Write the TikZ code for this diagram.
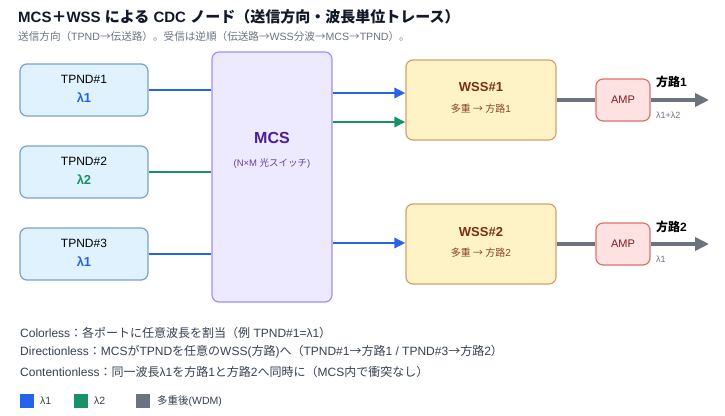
\documentclass[tikz,border=0pt]{standalone}
\usepackage{fontspec}
\setmainfont{Liberation Sans}
\newfontfamily\jp{Noto Sans CJK JP}
\usetikzlibrary{arrows.meta,calc,positioning}

\definecolor{lamone}{RGB}{37,99,235}
\definecolor{lamtwo}{RGB}{22,146,100}
\definecolor{wdmgray}{RGB}{107,114,128}
\definecolor{tpndfill}{RGB}{224,242,254}
\definecolor{tpndline}{RGB}{122,163,198}
\definecolor{mcsfill}{RGB}{237,233,254}
\definecolor{mcsline}{RGB}{167,139,250}
\definecolor{mcstext}{RGB}{76,29,149}
\definecolor{wssfill}{RGB}{254,243,199}
\definecolor{wssline}{RGB}{214,160,110}
\definecolor{wsstext}{RGB}{124,45,18}
\definecolor{ampfill}{RGB}{254,226,226}
\definecolor{ampline}{RGB}{224,112,112}
\definecolor{amptext}{RGB}{127,29,29}
\definecolor{titletext}{RGB}{17,24,39}
\definecolor{bodytext}{RGB}{55,65,81}

\newcommand{\fs}[1]{\fontsize{#1}{#1}\selectfont}

\tikzset{
  box/.style={draw, rounded corners=7pt, line width=1.2pt},
  tpnd/.style={box, draw=tpndline, fill=tpndfill, minimum width=128pt, minimum height=52pt},
  mcsbox/.style={box, draw=mcsline, fill=mcsfill, minimum width=120pt, minimum height=250pt},
  wssbox/.style={box, draw=wssline, fill=wssfill, minimum width=150pt, minimum height=80pt},
  ampbox/.style={box, draw=ampline, fill=ampfill, minimum width=54pt, minimum height=42pt,
    text=amptext, font=\fs{11}},
  txt/.style={inner sep=0pt},
  wire/.style={line width=2.8pt},
  gwire/.style={line width=3.8pt, wdmgray},
  arr/.style={-{Triangle[length=11pt,width=10pt]}},
  garr/.style={-{Triangle[length=14pt,width=13pt]}},
  swatch/.style={inner sep=0pt, minimum size=14pt},
}

\begin{document}
\begin{tikzpicture}[x=1pt,y=-1pt]
  \useasboundingbox[fill=white] (0,0) rectangle (725,415);

  % title
  \node[txt,anchor=west,font=\fs{15}\bfseries,text=titletext] (title) at (18,17)
    {MCS{\jp ＋}WSS {\jp による} CDC {\jp ノード（送信方向・波長単位トレース）}};
  \node[txt,anchor=west,font=\fs{10.6},text=wdmgray] (subtitle) at (18,36)
    {{\jp 送信方向（}TPND{\jp →伝送路）。受信は逆順（伝送路→}WSS{\jp 分波→}MCS{\jp →}TPND{\jp ）。}};

  % transponders
  \node[tpnd] (tp1) at (84,90) {};
  \node[txt,font=\fs{12}] (tp1n) at (84,79) {TPND\#1};
  \node[txt,font=\fs{13}\bfseries,text=lamone] (tp1l) at (84,98) {λ1};
  \node[tpnd] (tp2) at (84,172) {};
  \node[txt,font=\fs{12}] (tp2n) at (84,161) {TPND\#2};
  \node[txt,font=\fs{13}\bfseries,text=lamtwo] (tp2l) at (84,180) {λ2};
  \node[tpnd] (tp3) at (84,254) {};
  \node[txt,font=\fs{12}] (tp3n) at (84,243) {TPND\#3};
  \node[txt,font=\fs{13}\bfseries,text=lamone] (tp3l) at (84,262) {λ1};

  % MCS
  \node[mcsbox] (mcs) at (272,177) {};
  \node[txt,font=\fs{16}\bfseries,text=mcstext] (mcsn) at (272,138) {MCS};
  \node[txt,font=\fs{9.5},text=mcstext!85] (mcss) at (272,163) {(N×M {\jp 光スイッチ})};

  % WSS
  \node[wssbox] (wss1) at (481,100) {};
  \node[txt,font=\fs{13}\bfseries,text=wsstext] (wss1n) at (481,87) {WSS\#1};
  \node[txt,font=\fs{10},text=wsstext!90] (wss1s) at (481,109) {{\jp 多重 → 方路}1};
  \node[wssbox] (wss2) at (481,244) {};
  \node[txt,font=\fs{13}\bfseries,text=wsstext] (wss2n) at (481,232) {WSS\#2};
  \node[txt,font=\fs{10},text=wsstext!90] (wss2s) at (481,253) {{\jp 多重 → 方路}2};

  % amplifiers
  \node[ampbox] (amp1) at (623,100) {AMP};
  \node[ampbox] (amp2) at (623,244) {AMP};
  \coordinate (out1) at (709,100);
  \coordinate (out2) at (709,244);
  \node[txt,anchor=west,font=\fs{12}\bfseries] (dir1) at (656,82) {{\jp 方路}1};
  \node[txt,anchor=west,font=\fs{9},text=wdmgray] (dir1l) at (656,115) {λ1+λ2};
  \node[txt,anchor=west,font=\fs{12}\bfseries] (dir2) at (656,227) {{\jp 方路}2};
  \node[txt,anchor=west,font=\fs{9},text=wdmgray] (dir2l) at (656,259) {λ1};

  % TPND -> MCS
  \draw[wire,lamone] (tp1.east) -- (tp1.east -| mcs.west);
  \draw[wire,lamtwo] (tp2.east) -- (tp2.east -| mcs.west);
  \draw[wire,lamone] (tp3.east) -- (tp3.east -| mcs.west);

  % MCS -> WSS
  \coordinate (w1a) at ($(wss1.west)+(0,-7)$);
  \coordinate (w1b) at ($(wss1.west)+(0,22)$);
  \coordinate (w2a) at ($(wss2.west)+(0,-1)$);
  \draw[wire,lamone,arr] (w1a -| mcs.east) -- (w1a);
  \draw[wire,lamtwo,arr] (w1b -| mcs.east) -- (w1b);
  \draw[wire,lamone,arr] (w2a -| mcs.east) -- (w2a);

  % WSS -> AMP -> line
  \draw[gwire] (wss1) -- (amp1);
  \draw[gwire,garr] (amp1) -- (out1);
  \draw[gwire] (wss2) -- (amp2);
  \draw[gwire,garr] (amp2) -- (out2);

  % notes
  \node[txt,anchor=west,font=\fs{12},text=bodytext] (note1) at (20,333)
    {Colorless{\jp ：各ポートに任意波長を割当（例} TPND\#1=λ1{\jp ）}};
  \node[txt,anchor=west,font=\fs{12},text=bodytext] (note2) at (20,352)
    {Directionless{\jp ：}MCS{\jp が}TPND{\jp を任意の}WSS({\jp 方路}){\jp へ（}TPND\#1{\jp →方路}1 / TPND\#3{\jp →方路}2{\jp ）}};
  \node[txt,anchor=west,font=\fs{12},text=bodytext] (note3) at (20,372)
    {Contentionless{\jp ：同一波長}λ1{\jp を方路}1{\jp と方路}2{\jp へ同時に（}MCS{\jp 内で衝突なし）}};

  % legend
  \node[swatch,fill=lamone] (lg1) at (27,401) {};
  \node[txt,anchor=west,font=\fs{10.5},text=bodytext] (lg1t) at (40,401) {λ1};
  \node[swatch,fill=lamtwo] (lg2) at (81,401) {};
  \node[txt,anchor=west,font=\fs{10.5},text=bodytext] (lg2t) at (94,401) {λ2};
  \node[swatch,fill=wdmgray] (lg3) at (143,401) {};
  \node[txt,anchor=west,font=\fs{10.5},text=bodytext] (lg3t) at (157,401) {{\jp 多重後}(WDM)};
\end{tikzpicture}
\end{document}
